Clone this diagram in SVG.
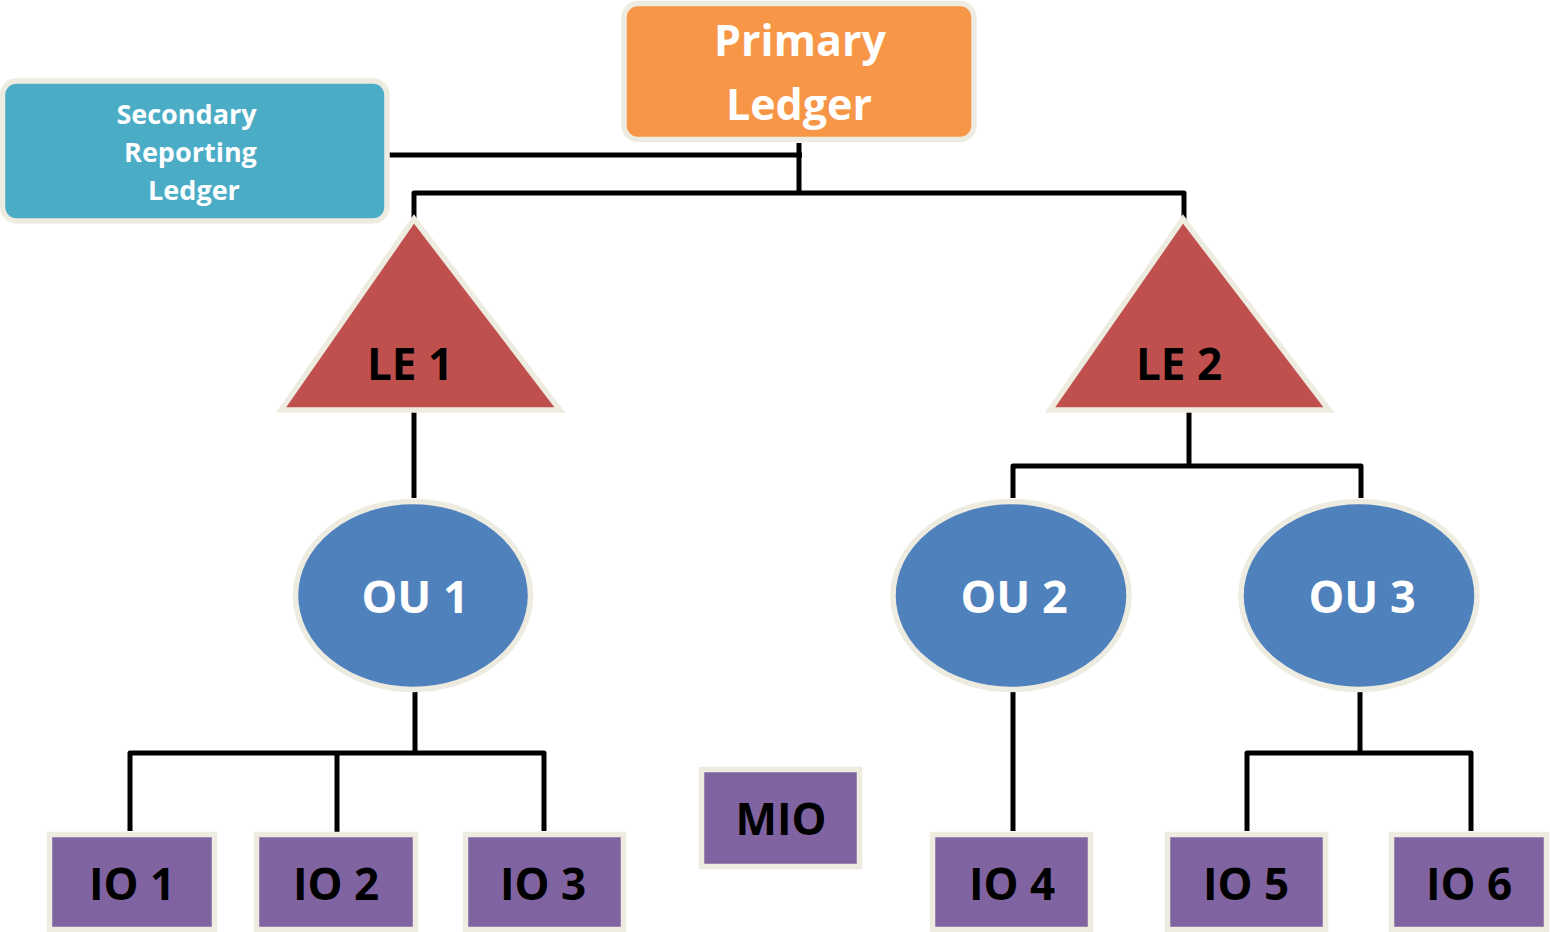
<svg xmlns="http://www.w3.org/2000/svg" width="1550" height="932" viewBox="0 0 1550 932">
  <style>
    .edge { fill: none; stroke: #000; stroke-width: 5; stroke-linejoin: round; }
    .node { stroke: #EEECE1; stroke-width: 5.5; }
    .ledger { fill: #F79646; }
    .secondary { fill: #4BACC6; }
    .le { fill: #C0504D; stroke-linejoin: miter; }
    .ou { fill: #4F81BD; }
    .io { fill: #8064A2; }
    text { font-family: "Open Sans", "Liberation Sans", sans-serif; font-weight: bold; text-anchor: middle; }
    .light { fill: #FFFFFF; }
    .dark { fill: #000000; }
  </style>

  <!-- connectors -->
  <g id="connectors">
    <path class="edge" d="M389 155 H802"/>
    <path class="edge" d="M799 143 V193"/>
    <path class="edge" d="M414 220 V193 H1184 V220"/>
    <path class="edge" d="M414 412 V498"/>
    <path class="edge" d="M415 692 V753"/>
    <path class="edge" d="M130 831 V753 H544 V831"/>
    <path class="edge" d="M337 753 V836"/>
    <path class="edge" d="M1189 412 V466"/>
    <path class="edge" d="M1013 498 V466 H1361 V498"/>
    <path class="edge" d="M1013 692 V831"/>
    <path class="edge" d="M1360 692 V753"/>
    <path class="edge" d="M1247 831 V753 H1471 V831"/>
  </g>

  <!-- ledgers -->
  <g id="primary-ledger">
    <rect class="node ledger" x="624" y="3.5" width="350" height="136" rx="14"/>
    <text class="light" x="800" y="56" font-size="43">Primary</text>
    <text class="light" x="799" y="120" font-size="43">Ledger</text>
  </g>
  <g id="secondary-ledger">
    <rect class="node secondary" x="2.5" y="81" width="384.5" height="140" rx="14"/>
    <text class="light" font-size="27">
      <tspan x="190" y="124">Secondary</tspan>
      <tspan x="194" y="162">Reporting</tspan>
      <tspan x="194" y="200">Ledger</tspan>
    </text>
  </g>

  <!-- legal entities -->
  <g id="le1">
    <polygon class="node le" points="414,219 560,410 281,410"/>
    <text class="dark" x="410" y="380" font-size="44">LE 1</text>
  </g>
  <g id="le2">
    <polygon class="node le" points="1183,219 1329,410 1050,410"/>
    <text class="dark" x="1179" y="380" font-size="44">LE 2</text>
  </g>

  <!-- operating units -->
  <g id="ou1">
    <ellipse class="node ou" cx="413" cy="595.5" rx="117.5" ry="94"/>
    <text class="light" x="415" y="613" font-size="45">OU 1</text>
  </g>
  <g id="ou2">
    <ellipse class="node ou" cx="1011" cy="595.5" rx="118" ry="94"/>
    <text class="light" x="1014" y="613" font-size="45">OU 2</text>
  </g>
  <g id="ou3">
    <ellipse class="node ou" cx="1359" cy="595.5" rx="118" ry="94"/>
    <text class="light" x="1362" y="613" font-size="45">OU 3</text>
  </g>

  <!-- inventory organizations -->
  <g id="io1">
    <rect class="node io" x="49.5" y="834.5" width="165" height="95"/>
    <text class="dark" x="132" y="900" font-size="44">IO 1</text>
  </g>
  <g id="io2">
    <rect class="node io" x="256.5" y="834.5" width="159" height="95"/>
    <text class="dark" x="336" y="900" font-size="44">IO 2</text>
  </g>
  <g id="io3">
    <rect class="node io" x="465.5" y="834.5" width="158" height="95"/>
    <text class="dark" x="543" y="900" font-size="44">IO 3</text>
  </g>
  <g id="mio">
    <rect class="node io" x="701.5" y="769.5" width="158" height="97"/>
    <text class="dark" x="781" y="835" font-size="44">MIO</text>
  </g>
  <g id="io4">
    <rect class="node io" x="932.5" y="834.5" width="158" height="95"/>
    <text class="dark" x="1012" y="900" font-size="44">IO 4</text>
  </g>
  <g id="io5">
    <rect class="node io" x="1167.5" y="834.5" width="158" height="95"/>
    <text class="dark" x="1246" y="900" font-size="44">IO 5</text>
  </g>
  <g id="io6">
    <rect class="node io" x="1391.5" y="834.5" width="155" height="95"/>
    <text class="dark" x="1469" y="900" font-size="44">IO 6</text>
  </g>
</svg>
